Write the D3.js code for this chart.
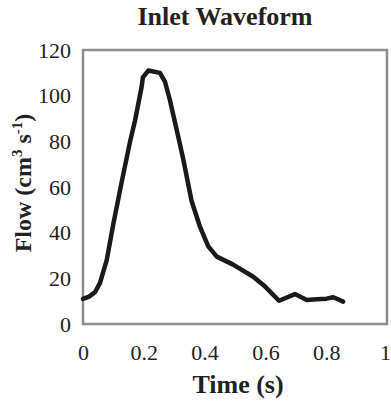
<!DOCTYPE html>
<html>
<head>
<meta charset="utf-8">
<script src="https://cdn.jsdelivr.net/npm/d3@7"></script>
<style>
  html, body { margin: 0; padding: 0; background: #fff; }
  svg { display: block; font-family: "Liberation Serif", "Times New Roman", serif; }
</style>
</head>
<body>
<div id="chart"></div>
<script>
// values
const time = [0, 0.02, 0.04, 0.056, 0.078, 0.1, 0.127, 0.155, 0.171, 0.193, 0.197, 0.215,
    0.253, 0.27, 0.286, 0.31, 0.33, 0.357, 0.385, 0.412, 0.44, 0.494, 0.56, 0.599,
    0.645, 0.697, 0.736, 0.769, 0.801, 0.823, 0.856];
const flow = [11, 12, 14, 18, 28, 44, 62, 80, 89, 104, 108, 111,
    110, 106, 98, 84, 72, 54, 42.5, 34, 29.5, 26, 20.7, 16.4,
    10.2, 13.1, 10.5, 10.8, 11.1, 11.7, 9.8];
const xTicks = [0, 0.2, 0.4, 0.6, 0.8, 1];
const xTickLabels = ['0', '0.2', '0.4', '0.6', '0.8', '1'];
const yTicks = [0, 20, 40, 60, 80, 100, 120];

const margin = { top: 50, right: 4, bottom: 78, left: 83 };
const width = 391 - margin.left - margin.right;
const height = 402 - margin.top - margin.bottom;

const svg = d3.select('#chart').append('svg')
    .attr('width', 391)
    .attr('height', 402);

const g = svg.append('g')
    .attr('transform', `translate(${margin.left},${margin.top})`);

const xScale = d3.scaleLinear().domain([0, 1]).range([0, width]);
const yScale = d3.scaleLinear().domain([0, 120]).range([height, 0]);

// x axis, labels only
g.append('g')
    .attr('transform', `translate(0,${height})`)
    .call(d3.axisBottom(xScale).tickValues(xTicks).tickSize(0)
        .tickFormat((d, i) => xTickLabels[i]))
    .call(ax => ax.select('.domain').remove())
    .call(ax => ax.selectAll('text')
        .attr('y', 36).attr('dy', null)
        .attr('font-size', 22)
        .attr('font-family', 'Liberation Serif')
        .attr('fill', '#222'))
    .call(ax => ax.select('.tick:last-of-type text').attr('dx', -2)); // keep the "1" inside the page

// y axis, labels only
g.append('g')
    .call(d3.axisLeft(yScale).tickValues(yTicks).tickSize(0).tickPadding(12))
    .call(ax => ax.select('.domain').remove())
    .call(ax => ax.selectAll('text')
        .attr('font-size', 22)
        .attr('font-family', 'Liberation Serif')
        .attr('fill', '#222'));

// plot frame
g.append('rect')
    .attr('x', 0)
    .attr('y', 0)
    .attr('width', width)
    .attr('height', height)
    .attr('fill', 'none')
    .attr('stroke', '#8a8e8e')
    .attr('stroke-width', 2.5);

const getLine = d3.line()
    .x((d, i) => xScale(time[i]))
    .y(d => yScale(d));

g.append('path')
    .datum(flow)
    .attr('fill', 'none')
    .attr('stroke', '#1a1a1a')
    .attr('stroke-width', 4.5)
    .attr('stroke-linejoin', 'round')
    .attr('stroke-linecap', 'round')
    .attr('d', getLine);

// title
svg.append('text')
    .attr('x', 225)
    .attr('y', 25)
    .attr('text-anchor', 'middle')
    .attr('font-size', 26)
    .attr('font-weight', 'bold')
    .attr('fill', '#222')
    .text('Inlet Waveform');

// x axis title
svg.append('text')
    .attr('x', 238)
    .attr('y', 393)
    .attr('text-anchor', 'middle')
    .attr('font-size', 26)
    .attr('font-weight', 'bold')
    .attr('fill', '#222')
    .text('Time (s)');

// y axis title with superscripts
const yTitle = svg.append('text')
    .attr('transform', 'translate(31,183) rotate(-90)')
    .attr('text-anchor', 'middle')
    .attr('font-size', 24)
    .attr('font-weight', 'bold')
    .attr('fill', '#222');
yTitle.append('tspan').text('Flow (cm');
yTitle.append('tspan').attr('font-size', 15).attr('dy', -9).text('3');
yTitle.append('tspan').attr('dy', 9).text(' s');
yTitle.append('tspan').attr('font-size', 15).attr('dy', -9).text('-1');
yTitle.append('tspan').attr('dy', 9).text(')');
</script>
</body>
</html>
